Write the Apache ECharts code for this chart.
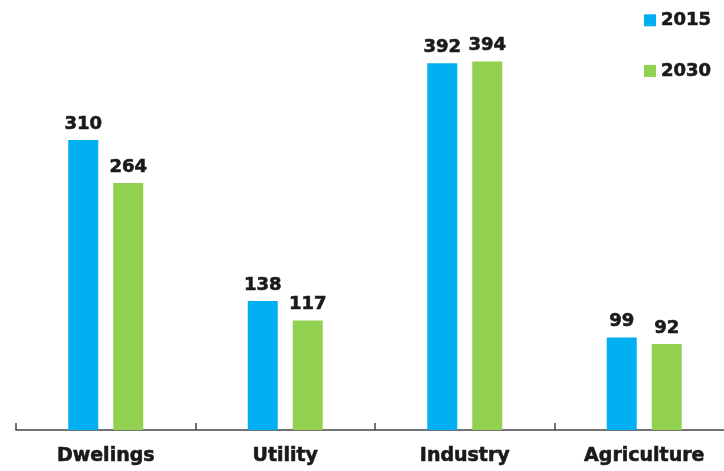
<!DOCTYPE html>
<html>
<head>
<meta charset="utf-8">
<script src="https://cdn.jsdelivr.net/npm/echarts@6/dist/echarts.min.js"></script>
<style>
  html, body { margin: 0; padding: 0; background: #fff; overflow: hidden; }
  #chart { width: 740px; height: 471px; }
</style>
</head>
<body>
<div id="chart"></div>
<script>
const categories = ['Dwelings', 'Utility', 'Industry', 'Agriculture'];
const values2015 = [310, 138, 392, 99];
const values2030 = [264, 117, 394, 92];

const FONT = '"DejaVu Sans", Verdana, sans-serif';
const INK = '#1a1a1a';
// heavy bold text: a thin stroke in the fill colour thickens the glyphs
const heavyText = (size) => ({
  fontFamily: FONT,
  fontWeight: 'bold',
  fontSize: size,
  color: INK,
  textBorderColor: INK,
  textBorderWidth: 0.6
});

const chart = echarts.init(document.getElementById('chart'));
const labelStyle = Object.assign({ show: true, position: 'top', distance: 7 }, heavyText(18));

chart.setOption({
  animation: false,
  legend: {
    orient: 'vertical',
    left: 639,
    top: 6,
    itemWidth: 12,
    itemHeight: 12,
    itemGap: 32,
    icon: 'rect',
    textStyle: heavyText(18)
  },
  grid: { left: 16, top: 9, width: 718, height: 421, containLabel: false },
  xAxis: {
    type: 'category',
    data: categories,
    axisLine: { lineStyle: { color: '#444', width: 1.5 } },
    axisTick: { show: true, inside: true, length: 7, lineStyle: { color: '#444', width: 1.5 } },
    axisLabel: Object.assign({ margin: 17 }, heavyText(19))
  },
  yAxis: {
    type: 'value',
    min: 0,
    max: 450,
    show: false,
    splitLine: { show: false }
  },
  series: [
    {
      name: '2015',
      type: 'bar',
      data: values2015,
      barWidth: 30,
      barGap: '50%',
      itemStyle: { color: '#00B0F0' },
      label: labelStyle
    },
    {
      name: '2030',
      type: 'bar',
      data: values2030,
      barWidth: 30,
      itemStyle: { color: '#92D050' },
      label: labelStyle
    }
  ]
});
</script>
</body>
</html>
